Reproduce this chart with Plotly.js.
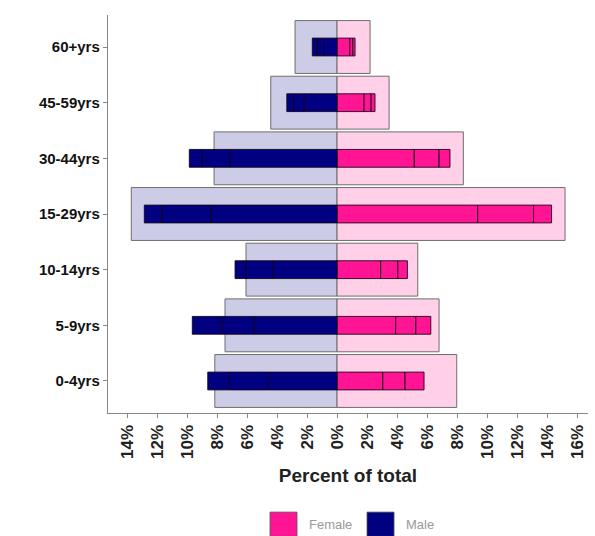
<!DOCTYPE html>
<html>
<head>
<meta charset="utf-8">
<script src="https://cdn.plot.ly/plotly-3.0.1.min.js"></script>
<style>html,body{margin:0;padding:0;background:#fff;}#chart{width:595px;height:536px;}</style>
</head>
<body>
<div id="chart"></div>
<script>
// Age groups (bottom to top)
const ageGroups = ["0-4yrs", "5-9yrs", "10-14yrs", "15-29yrs", "30-44yrs", "45-59yrs", "60+yrs"];

// Background (reference population) percent of total
const maleRef   = [8.15, 7.47, 6.07, 13.72, 8.2, 4.42, 2.8];
const femaleRef = [7.98, 6.8, 5.38, 15.2, 8.42, 3.47, 2.2];

// Stacked segments of the study population (inner, middle, outer)
const maleSeg1   = [4.58, 5.53, 4.29, 8.4, 7.13, 2.2, 0.9];
const maleSeg2   = [2.6, 2.16, 1.8, 3.3, 1.87, 0.7, 0.45];
const maleSeg3   = [1.44, 1.96, 0.71, 1.15, 0.85, 0.45, 0.3];
const femaleSeg1 = [3.05, 3.91, 2.91, 9.38, 5.15, 1.8, 0.85];
const femaleSeg2 = [1.48, 1.34, 1.14, 3.72, 1.65, 0.47, 0.2];
const femaleSeg3 = [1.27, 1.0, 0.64, 1.2, 0.73, 0.26, 0.15];

const tickVals = [-14,-12,-10,-8,-6,-4,-2,0,2,4,6,8,10,12,14,16];
const legendNames = ["Female", "Male"];

const NAVY = "#000080", PINK = "#ff1493";
const navyBg = "rgb(204,204,230)", pinkBg = "rgb(255,208,232)";

const traces = [];
traces.push({type:"bar", orientation:"h", y:ageGroups, x:maleRef.map(v=>-v), base:0, width:0.95,
  marker:{color:navyBg, line:{color:"#6e6e6e", width:1}}, showlegend:false, hoverinfo:"skip"});
traces.push({type:"bar", orientation:"h", y:ageGroups, x:femaleRef, base:0, width:0.95,
  marker:{color:pinkBg, line:{color:"#6e6e6e", width:1}}, showlegend:false, hoverinfo:"skip"});

function addStack(segs, sign, color, name) {
  let cum = ageGroups.map(()=>0);
  segs.forEach((seg) => {
    traces.push({type:"bar", orientation:"h", y:ageGroups,
      x: seg.map(v=>sign*v), base: cum.map(c=>sign*c), width:0.32,
      marker:{color:color, line:{color:"rgba(20,0,20,0.85)", width:1}},
      name:name, showlegend:false});
    cum = cum.map((c,k)=>c+seg[k]);
  });
}
addStack([femaleSeg1, femaleSeg2, femaleSeg3], 1, PINK, "Female");
addStack([maleSeg1, maleSeg2, maleSeg3], -1, NAVY, "Male");

// Legend drawn as paper shapes + text (big square keys)
const legendColors = [PINK, NAVY];
const keyX = [0.3375, 0.5396];
const shapes = [], annotations = [];
legendNames.forEach((n, i) => {
  shapes.push({type:"rect", xref:"paper", yref:"paper", x0:keyX[i], x1:keyX[i]+0.0563,
    y0:-0.310, y1:-0.249, fillcolor:legendColors[i], line:{color:"#555", width:0.8}});
  annotations.push({xref:"paper", yref:"paper", x:keyX[i]+0.0563+0.02, y:-0.281,
    xanchor:"left", yanchor:"middle", showarrow:false, text:n,
    font:{size:13, color:"#999"}});
});

const layout = {
  width:595, height:536,
  margin:{l:108, r:7, t:15, b:123},
  barmode:"overlay",
  showlegend:false,
  paper_bgcolor:"#fff", plot_bgcolor:"#fff",
  font:{family:"Liberation Sans, Arial, sans-serif", color:"#222"},
  xaxis:{range:[-15.27, 16.73], tickvals:tickVals, ticktext:tickVals.map(v=>Math.abs(v)+"%"),
    tickangle:-90, tickfont:{size:17, color:"#222", weight:"bold"}, automargin:false,
    showgrid:false, zeroline:false, showline:true, linecolor:"#888", linewidth:1.2,
    ticks:"outside", ticklen:4, tickcolor:"#888",
    title:{text:"<b>Percent of total</b>", font:{size:19, color:"#222"}, standoff:10}},
  yaxis:{type:"category", categoryorder:"array", categoryarray:ageGroups, range:[-0.575, 6.575],
    tickfont:{size:15, color:"#111", weight:"bold"}, automargin:false,
    showgrid:false, zeroline:false, showline:true, linecolor:"#888", linewidth:1.2,
    ticks:"outside", ticklen:4, tickcolor:"#888"},
  shapes:shapes,
  annotations:annotations
};

Plotly.newPlot("chart", traces, layout, {displayModeBar:false, staticPlot:true});
</script>
</body>
</html>
